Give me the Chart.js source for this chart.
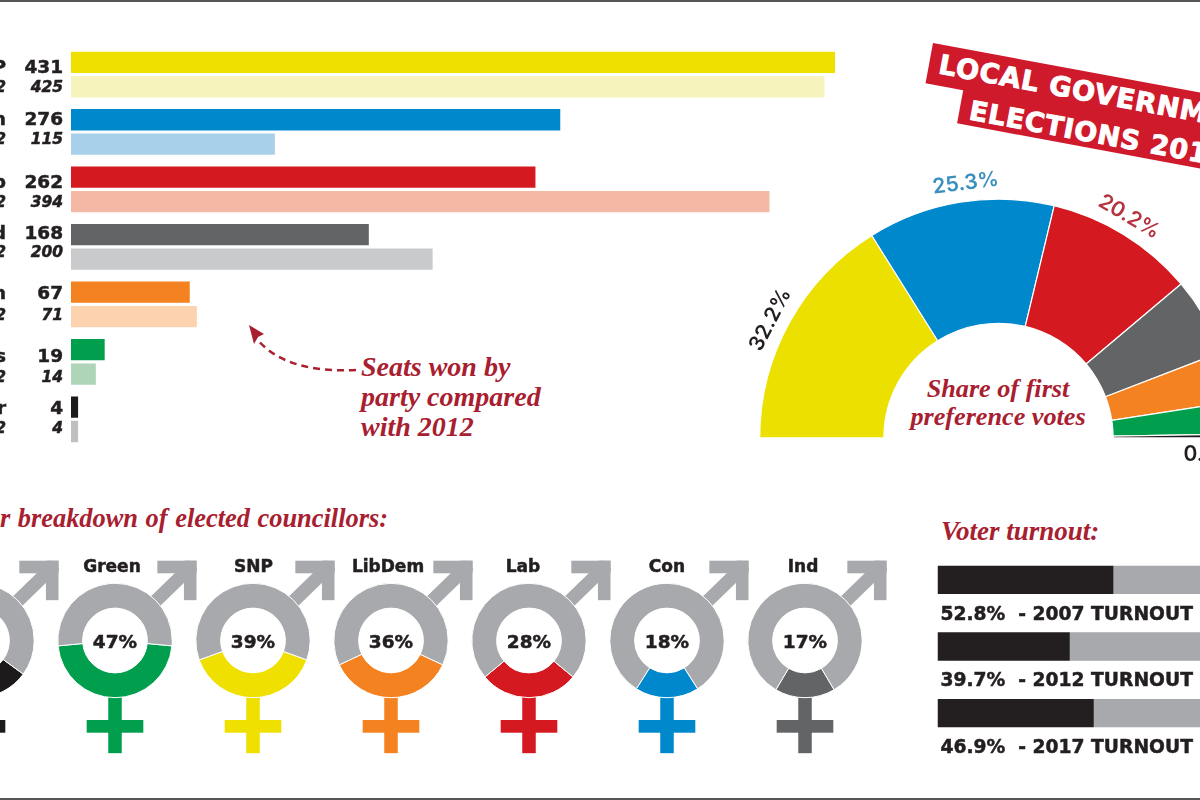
<!DOCTYPE html>
<html>
<head>
<meta charset="utf-8">
<title>Local government elections 2017</title>
<script src="https://cdn.jsdelivr.net/npm/chart.js@4"></script>
<style>
  html, body { margin: 0; padding: 0; background: #fff; }
  body { position: relative; width: 1200px; height: 800px; overflow: hidden; }
  canvas { position: absolute; }
  .rule { position: absolute; left: 0; width: 1200px; height: 2px; background: #555658; }
  .banner { position: absolute; background: #cf1a2b; color: #fff; width: 420px; transform-origin: 0 0;
    transform: rotate(10.5deg); font: 700 27.2px "DejaVu Sans"; letter-spacing: 0.8px; white-space: nowrap;
    -webkit-text-stroke: 0.9px #fff; }
  .note { position: absolute; color: #a8202f; font: italic 700 28px "Liberation Serif"; white-space: nowrap; }
</style>
</head>
<body>
<div class="rule" style="top:0"></div>
<div class="rule" style="bottom:0"></div>

<div class="banner" style="left:963.6px;top:85.9px;height:38px;line-height:45px;padding-left:10px;font-size:27px;letter-spacing:0.7px">ELECTIONS 2017</div>
<div class="banner" style="left:932.7px;top:43.3px;height:41px;line-height:39px;padding-left:10px">LOCAL GOVERNMENT</div>

<div class="note" style="left:361px;top:352px;line-height:30px">Seats won by<br>party compared<br>with 2012</div>
<div class="note" style="left:998px;top:375px;line-height:28px;font-size:26.2px;text-align:center;transform:translateX(-50%)">Share of first<br>preference votes</div>
<div class="note" style="right:812px;top:503px;font-size:26.4px;word-spacing:1px">Gender breakdown of elected councillors:</div>
<div class="note" style="left:941px;top:516px;font-size:27px">Voter turnout:</div>

<script>
// seats
const parties = ["SNP", "Con", "Lab", "Ind", "LibDem", "Greens", "Other"];
const seats2017 = [431, 276, 262, 168, 67, 19, 4];
// the 2012 Ind bar is printed as 200 but drawn longer, about 204
const seats2012 = [425, 115, 394, 204, 71, 14, 4];
const seats2012Labels = ["425", "115", "394", "200", "71", "14", "4"];
const colors2017 = ["#f0e000", "#0088cc", "#d41920", "#636466", "#f58220", "#009e4d", "#1d1a1b"];
const colors2012 = ["#f7f3bc", "#a8d0ea", "#f3b9a5", "#c9cacc", "#fdd2ae", "#aed5b8", "#bfc0c2"];
// the printed numbers do not sit quite level with their bars
const nudge2017 = [5.5, 0.5, 5.5, 0, 2, 8, 2];
const nudge2012 = [1.6, -3.8, 0.9, -5.8, -1, 3.7, -3];

// first preference votes
const shareValues = [32.2, 25.3, 20.2, 10.6, 6.8, 4.4, 0.5];
const shareColors = ["#ece000", "#0088cc", "#d41920", "#636466", "#f58220", "#009e4d", "#1d1a1b"];
const shareLabels = ["32.2%", "25.3%", "20.2%"];
const shareLabelColors = ["#231f20", "#3a8fbf", "#b5333f"];
const shareLabelNudge = [-1.6, 1.9, -1.1];
const smallShareLabel = "0.5%";

// gender breakdown
const genderParties = ["Other", "Green", "SNP", "LibDem", "Lab", "Con", "Ind"];
const femaleShare = [30, 47, 39, 36, 28, 18, 17];
const genderColors = ["#1d1a1b", "#009e4d", "#f0e000", "#f58220", "#d41920", "#0088cc", "#636466"];
const genderLabelNudge = [-12, -3, 0.5, -3, -6, 0, -2];

// turnout
const turnoutYears = ["2007", "2012", "2017"];
const turnoutValues = [52.8, 39.7, 46.9];

const ink = "#231f20";
const maleGrey = "#a7a9ac";

Chart.defaults.animation = false;
Chart.defaults.responsive = false;
Chart.defaults.plugins.legend.display = false;
Chart.defaults.plugins.tooltip.enabled = false;

function makeCanvas(left, top, width, height) {
  const canvas = document.createElement("canvas");
  canvas.width = width;
  canvas.height = height;
  canvas.style.left = left + "px";
  canvas.style.top = top + "px";
  canvas.style.width = width + "px";
  canvas.style.height = height + "px";
  document.body.appendChild(canvas);
  return canvas.getContext("2d");
}

// DejaVu Bold is a little lighter than the poster's face, so thicken it
function heavyText(ctx, text, x, y) {
  ctx.strokeStyle = ink;
  ctx.lineWidth = 0.5;
  ctx.strokeText(text, x, y);
  ctx.fillText(text, x, y);
}

const seatLabelsPlugin = {
  id: "seatLabels",
  afterDatasetsDraw(chart) {
    const ctx = chart.ctx;
    const base = chart.scales.x.left;
    ctx.save();
    ctx.fillStyle = ink;
    ctx.textAlign = "right";
    ctx.textBaseline = "middle";
    chart.getDatasetMeta(0).data.forEach((bar, i) => {
      ctx.font = "700 18.5px 'DejaVu Sans'";
      heavyText(ctx, seats2017[i], base - 8, bar.y + nudge2017[i]);
      heavyText(ctx, parties[i], base - 65, bar.y + nudge2017[i]);
    });
    chart.getDatasetMeta(1).data.forEach((bar, i) => {
      ctx.font = "italic 700 15.5px 'DejaVu Sans'";
      heavyText(ctx, seats2012Labels[i], base - 8, bar.y + nudge2012[i]);
      heavyText(ctx, "2012", base - 65, bar.y + nudge2012[i]);
    });
    ctx.restore();
  },
};

// dashed arrow from the "Seats won by" note back to the bars
const seatArrowPlugin = {
  id: "seatArrow",
  afterDraw(chart) {
    const ctx = chart.ctx;
    ctx.save();
    ctx.translate(130, 0);
    ctx.strokeStyle = "#a8202f";
    ctx.fillStyle = "#a8202f";
    ctx.lineWidth = 2.5;
    ctx.setLineDash([7, 5]);
    ctx.beginPath();
    ctx.moveTo(356, 370);
    ctx.bezierCurveTo(315, 372, 278, 365, 256, 338);
    ctx.stroke();
    ctx.setLineDash([]);
    ctx.beginPath();
    ctx.moveTo(249, 325);
    ctx.lineTo(264, 334);
    ctx.lineTo(258, 337);
    ctx.lineTo(254, 344);
    ctx.closePath();
    ctx.fill();
    ctx.restore();
  },
};

function drawSeats() {
  new Chart(makeCanvas(-130, 0, 981, 460), {
    type: "bar",
    data: {
      labels: parties,
      datasets: [
        { data: seats2017, backgroundColor: colors2017 },
        { data: seats2012, backgroundColor: colors2012 },
      ],
    },
    options: {
      indexAxis: "y",
      layout: { padding: { left: 201, right: 0, top: 45.8, bottom: 12 } },
      datasets: { bar: { categoryPercentage: 0.852, barPercentage: 0.87 } },
      scales: {
        x: { display: false, min: 0, max: 440 },
        y: { display: false },
      },
    },
    plugins: [seatLabelsPlugin, seatArrowPlugin],
  });
}

const shareLabelsPlugin = {
  id: "shareLabels",
  afterDatasetsDraw(chart) {
    const ctx = chart.ctx;
    const arcs = chart.getDatasetMeta(0).data;
    ctx.save();
    ctx.textAlign = "center";
    ctx.textBaseline = "middle";
    ctx.font = "600 21px Inter";
    shareLabels.forEach((label, i) => {
      const mid = (arcs[i].startAngle + arcs[i].endAngle) / 2 + (shareLabelNudge[i] * Math.PI) / 180;
      const r = arcs[i].outerRadius + 18;
      ctx.save();
      ctx.translate(arcs[i].x + r * Math.cos(mid), arcs[i].y + r * Math.sin(mid));
      ctx.rotate(mid + Math.PI / 2);
      ctx.fillStyle = shareLabelColors[i];
      ctx.fillText(label, 0, 0);
      ctx.restore();
    });
    const last = arcs[arcs.length - 1];
    ctx.fillStyle = ink;
    ctx.textAlign = "left";
    ctx.fillText(smallShareLabel, last.x + 185, last.y + 17);
    ctx.restore();
  },
};

function drawShare() {
  new Chart(makeCanvas(740, 170, 520, 300), {
    type: "doughnut",
    data: {
      labels: parties,
      datasets: [
        {
          data: shareValues,
          backgroundColor: shareColors,
          borderColor: "#fff",
          borderWidth: 1.2,
        },
      ],
    },
    options: {
      rotation: -90,
      circumference: 180,
      cutout: "48%",
      layout: { padding: { left: 18.5, right: 21.5, top: 28.5, bottom: 31.5 } },
    },
    plugins: [shareLabelsPlugin],
  });
}

// draws the male arrow and the female cross round the ring, sized from its radius
const genderSymbolPlugin = {
  id: "genderSymbol",
  beforeDatasetsDraw(chart, args, opts) {
    const ctx = chart.ctx;
    const arc = chart.getDatasetMeta(0).data[0];
    const cx = arc.x;
    const cy = arc.y;
    const R = arc.outerRadius;
    ctx.save();
    ctx.fillStyle = maleGrey;
    ctx.strokeStyle = maleGrey;
    ctx.lineWidth = R * 0.235;
    ctx.beginPath();
    ctx.moveTo(cx + R * 0.68, cy - R * 0.66);
    ctx.lineTo(cx + R * 1.36, cy - R * 1.32);
    ctx.stroke();
    ctx.fillRect(cx + R * 0.74, cy - R * 1.395, R * 0.685, R * 0.22);
    ctx.fillRect(cx + R * 1.205, cy - R * 1.395, R * 0.22, R * 0.69);
    ctx.fillStyle = opts.color;
    ctx.fillRect(cx - R * 0.118, cy + R * 0.9, R * 0.236, R * 1.07);
    ctx.fillRect(cx - R * 0.495, cy + R * 1.39, R * 0.99, R * 0.222);
    ctx.restore();
  },
  afterDatasetsDraw(chart, args, opts) {
    const ctx = chart.ctx;
    const arc = chart.getDatasetMeta(0).data[0];
    ctx.save();
    ctx.fillStyle = ink;
    ctx.textAlign = "center";
    ctx.textBaseline = "middle";
    ctx.font = "700 18.5px 'DejaVu Sans'";
    heavyText(ctx, opts.value + "%", arc.x, arc.y + 3);
    ctx.font = "700 17px 'DejaVu Sans'";
    heavyText(ctx, opts.party, arc.x + opts.nudge, arc.y - 73);
    ctx.restore();
  },
};

function drawGender() {
  genderParties.forEach((party, i) => {
    const cx = -23.5 + i * 138;
    new Chart(makeCanvas(cx - 100, 540, 200, 230), {
      type: "doughnut",
      data: {
        labels: ["Female", "Male"],
        datasets: [
          {
            data: [femaleShare[i], 100 - femaleShare[i]],
            backgroundColor: [genderColors[i], maleGrey],
            borderColor: "#fff",
            borderWidth: 1,
          },
        ],
      },
      options: {
        rotation: 180 - (femaleShare[i] * 3.6) / 2,
        cutout: "56.6%",
        layout: { padding: { left: 42.3, right: 42.3, top: 42.8, bottom: 71.8 } },
        plugins: {
          genderSymbol: {
            color: genderColors[i],
            value: femaleShare[i],
            party: party,
            nudge: genderLabelNudge[i],
          },
        },
      },
      plugins: [genderSymbolPlugin],
    });
  });
}

const turnoutLabelsPlugin = {
  id: "turnoutLabels",
  afterDatasetsDraw(chart) {
    const ctx = chart.ctx;
    ctx.save();
    ctx.fillStyle = ink;
    ctx.textAlign = "left";
    ctx.textBaseline = "middle";
    ctx.font = "700 18.7px 'DejaVu Sans'";
    chart.getDatasetMeta(0).data.forEach((bar, i) => {
      const text = turnoutValues[i].toFixed(1) + "%  - " + turnoutYears[i] + " TURNOUT";
      heavyText(ctx, text, chart.scales.x.left + 3, bar.y + 35);
    });
    ctx.restore();
  },
};

function drawTurnout() {
  new Chart(makeCanvas(930, 540, 350, 240), {
    type: "bar",
    data: {
      labels: turnoutYears,
      datasets: [
        { data: turnoutValues, backgroundColor: ink },
        { data: turnoutValues.map((v) => 100 - v), backgroundColor: maleGrey },
      ],
    },
    options: {
      indexAxis: "y",
      layout: { padding: { left: 7.5, right: 9.2, top: 6.5, bottom: 33.5 } },
      datasets: { bar: { categoryPercentage: 1, barPercentage: 0.4246 } },
      scales: {
        x: { display: false, stacked: true, min: 0, max: 100 },
        y: { display: false, stacked: true },
      },
    },
    plugins: [turnoutLabelsPlugin],
  });
}

drawSeats();
drawGender();
drawTurnout();
drawShare();
</script>
</body>
</html>
